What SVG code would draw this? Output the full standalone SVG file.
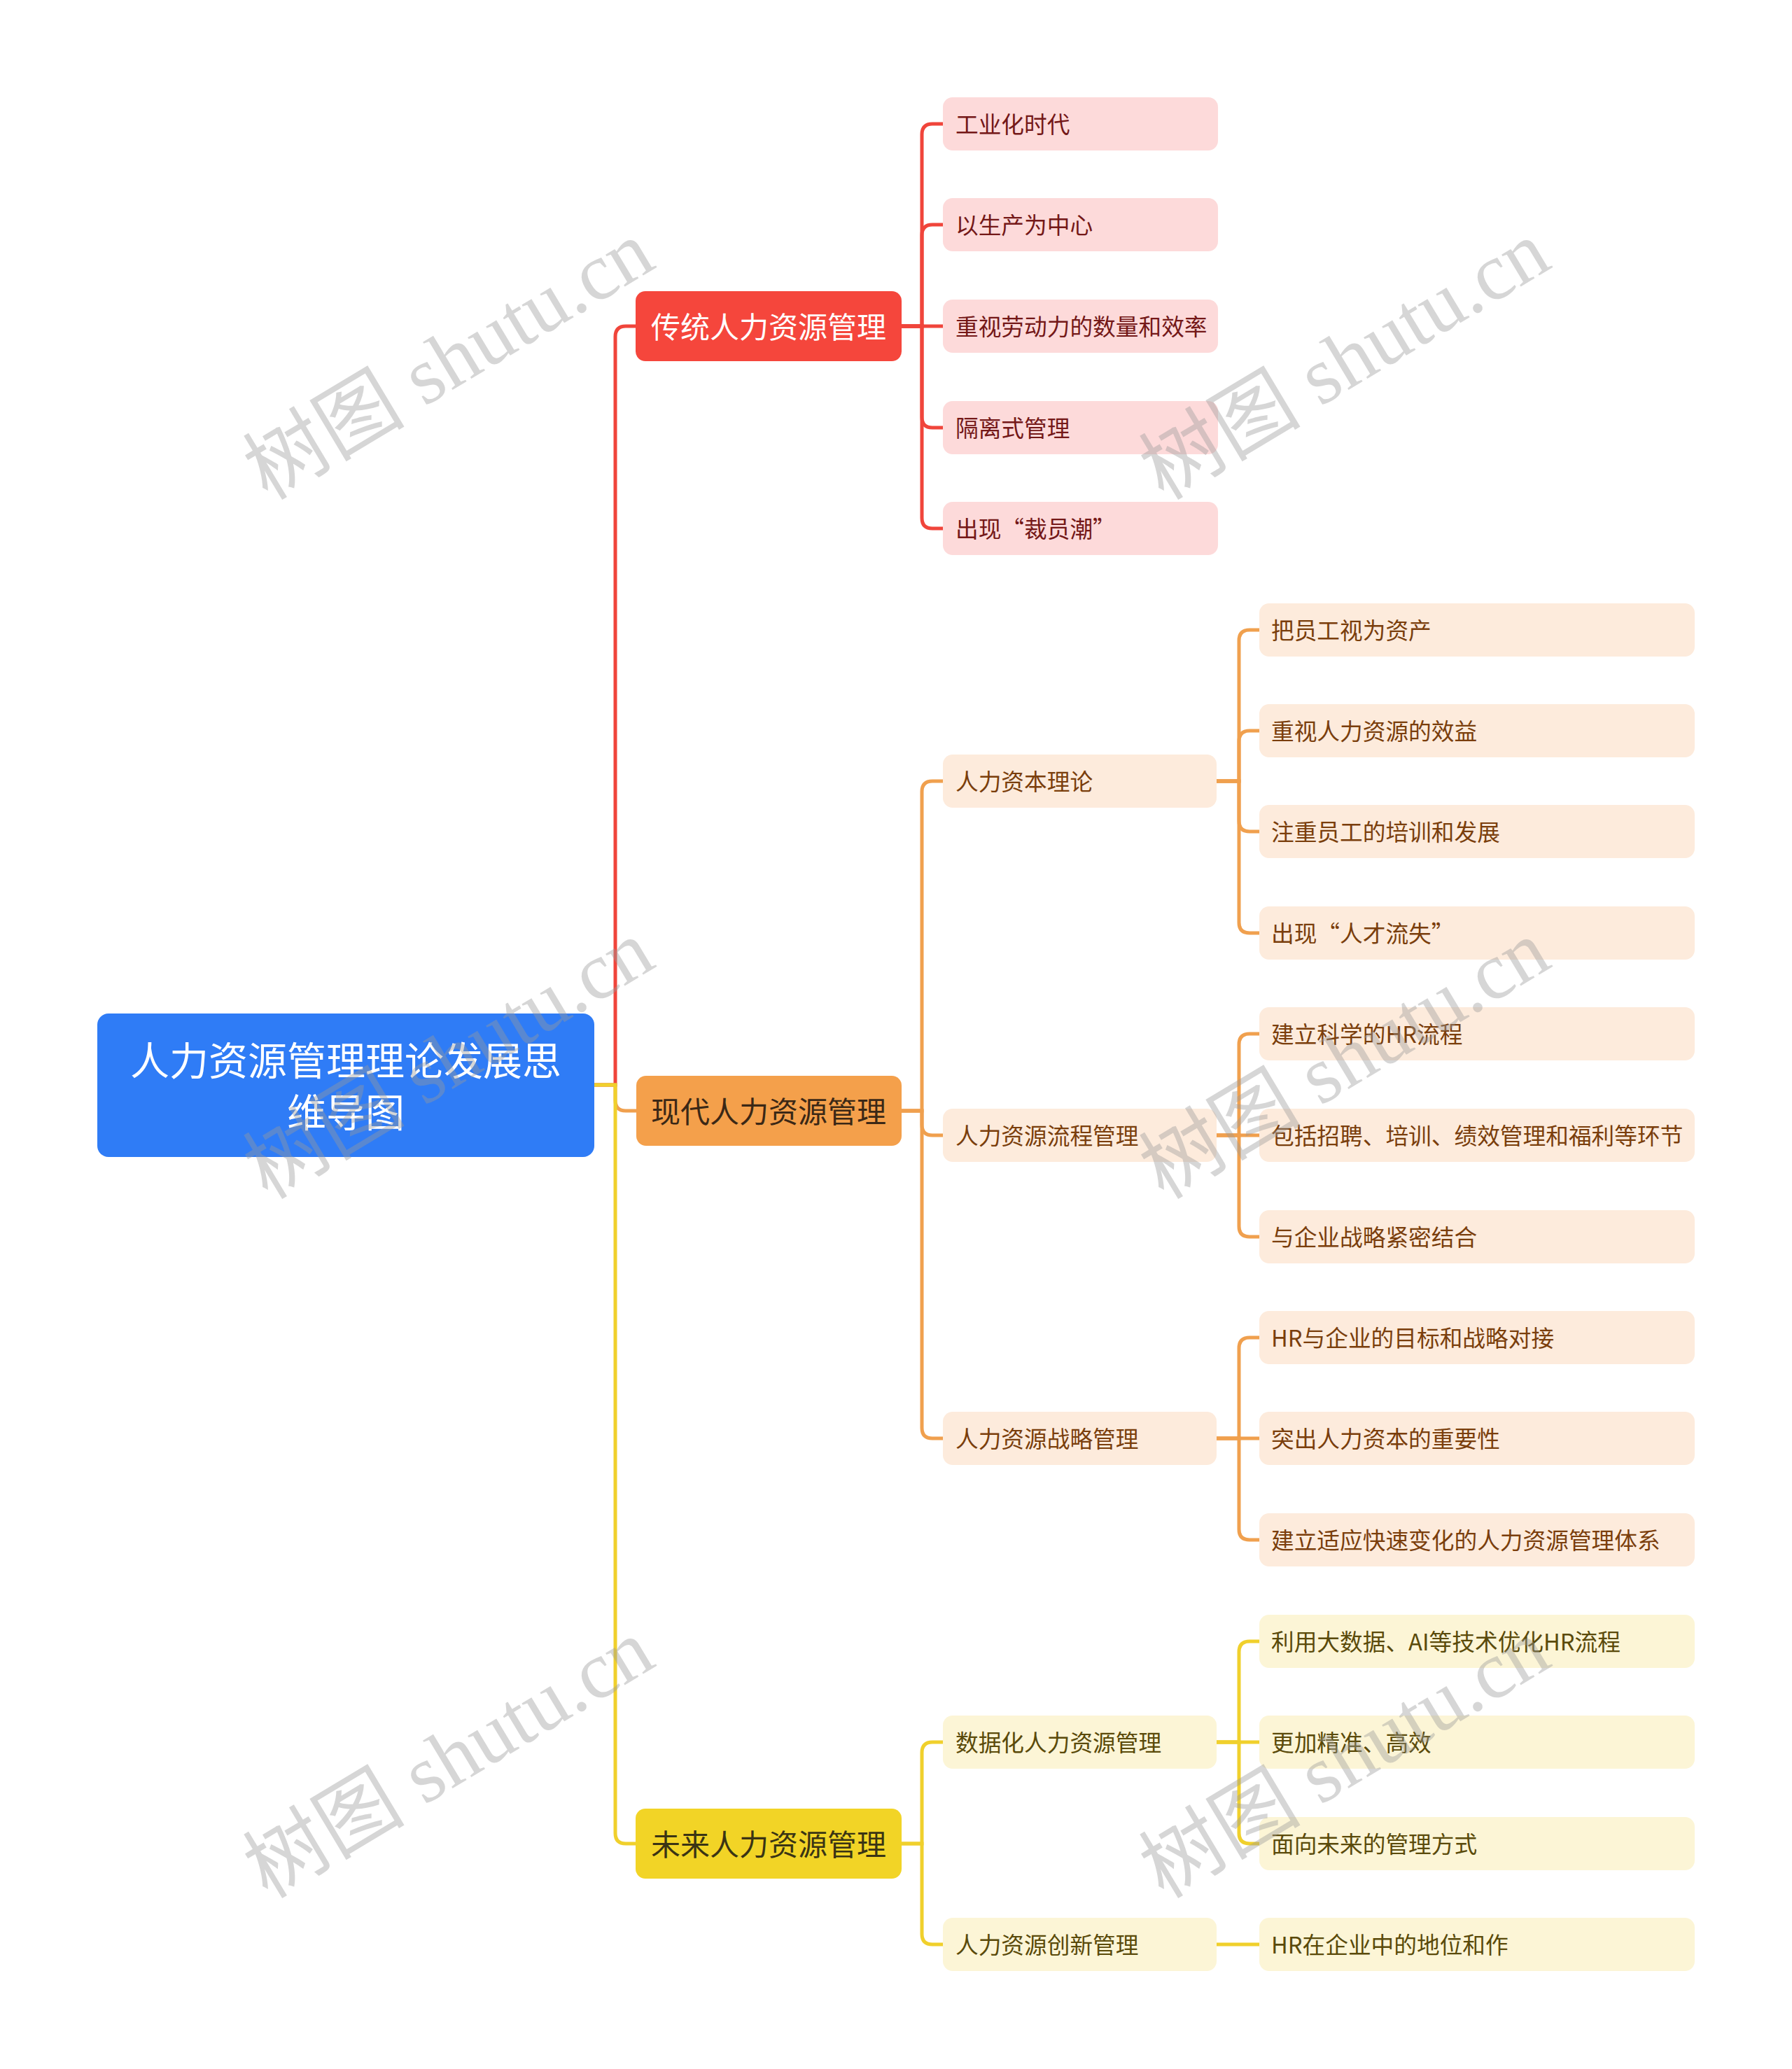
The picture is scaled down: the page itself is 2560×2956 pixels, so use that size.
<svg xmlns="http://www.w3.org/2000/svg" width="2560" height="2956" viewBox="0 0 2560 2956">
<style>
text{font-family:"Noto Sans CJK SC","Noto Sans",sans-serif;dominant-baseline:central}
.root rect{fill:#2F7CF6}
.root text{fill:#fff;font-size:56px;text-anchor:middle;transform:translateY(-3px)}
.m text{font-size:42px;transform:translateY(-2px)}
.mr rect{fill:#F5463C}.mr text{fill:#fff}
.mo rect{fill:#F4A04B}.mo text{fill:#3B2816}
.my rect{fill:#F2D426}.my text{fill:#3A3414}
.s text{font-size:32.7px;transform:translateY(-2px)}
.sr rect{fill:#FDDADA}.sr text{fill:#741818}
.so rect{fill:#FDEBDC}.so text{fill:#7A3E0C}
.sy rect{fill:#FCF5D6}.sy text{fill:#5A4A0A}
.c path{fill:none;stroke-width:5;stroke-linecap:butt}
.cr{stroke:#F0453B}.co{stroke:#F0A04E}.cy{stroke:#F0D02C}
.wm text{font-family:"Liberation Serif","Noto Sans CJK SC",serif;font-size:116px;fill:#9a9a9a;opacity:0.4;text-anchor:middle}
</style>
<g id="connectors" class="c">
<path class="cr" d="M849 1550H879V481Q879 466 894 466H908"/>
<path class="co" d="M849 1550H879V1572Q879 1587 894 1587H909"/>
<path class="cy" d="M849 1550H879V2619Q879 2634 894 2634H909"/>
<path class="cr" d="M1288 466H1317V192Q1317 177 1332 177H1347"/>
<path class="cr" d="M1288 466H1317V336Q1317 321 1332 321H1347"/>
<path class="cr" d="M1288 466H1347"/>
<path class="cr" d="M1288 466H1317V596Q1317 611 1332 611H1347"/>
<path class="cr" d="M1288 466H1317V740Q1317 755 1332 755H1347"/>
<path class="co" d="M1287 1587H1317V1131Q1317 1116 1332 1116H1347"/>
<path class="co" d="M1287 1587H1317V1607Q1317 1622 1332 1622H1347"/>
<path class="co" d="M1287 1587H1317V2040Q1317 2055 1332 2055H1347"/>
<path class="co" d="M1738 1116H1770V915Q1770 900 1785 900H1799"/>
<path class="co" d="M1738 1116H1770V1059Q1770 1044 1785 1044H1799"/>
<path class="co" d="M1738 1116H1770V1173Q1770 1188 1785 1188H1799"/>
<path class="co" d="M1738 1116H1770V1318Q1770 1333 1785 1333H1799"/>
<path class="co" d="M1738 1622H1770V1492Q1770 1477 1785 1477H1799"/>
<path class="co" d="M1738 1622H1799"/>
<path class="co" d="M1738 1622H1770V1752Q1770 1767 1785 1767H1799"/>
<path class="co" d="M1738 2055H1770V1926Q1770 1911 1785 1911H1799"/>
<path class="co" d="M1738 2055H1799"/>
<path class="co" d="M1738 2055H1770V2185Q1770 2200 1785 2200H1799"/>
<path class="cy" d="M1288 2634H1317V2504Q1317 2489 1332 2489H1347"/>
<path class="cy" d="M1288 2634H1317V2763Q1317 2778 1332 2778H1347"/>
<path class="cy" d="M1738 2489H1770V2360Q1770 2345 1785 2345H1799"/>
<path class="cy" d="M1738 2489H1799"/>
<path class="cy" d="M1738 2489H1770V2619Q1770 2634 1785 2634H1799"/>
<path class="cy" d="M1738 2778H1799"/>
</g>
<g id="root" class="root"><rect x="139" y="1448" width="710" height="205" rx="16"/><text x="494" y="1514">人力资源管理理论发展思</text><text x="494" y="1588">维导图</text></g>
<g id="n1" class="m mr"><rect x="908" y="416" width="380" height="100" rx="14"/><text x="930" y="466">传统人力资源管理</text></g>
<g id="n2" class="m mo"><rect x="909" y="1537" width="379" height="100" rx="14"/><text x="930" y="1587">现代人力资源管理</text></g>
<g id="n3" class="m my"><rect x="908" y="2584" width="380" height="100" rx="14"/><text x="930" y="2634">未来人力资源管理</text></g>
<g id="n1-1" class="s sr"><rect x="1347" y="139" width="393" height="76" rx="14"/><text x="1365" y="177">工业化时代</text></g>
<g id="n1-2" class="s sr"><rect x="1347" y="283" width="393" height="76" rx="14"/><text x="1365" y="321">以生产为中心</text></g>
<g id="n1-3" class="s sr"><rect x="1347" y="428" width="393" height="76" rx="14"/><text x="1365" y="466">重视劳动力的数量和效率</text></g>
<g id="n1-4" class="s sr"><rect x="1347" y="573" width="393" height="76" rx="14"/><text x="1365" y="611">隔离式管理</text></g>
<g id="n1-5" class="s sr"><rect x="1347" y="717" width="393" height="76" rx="14"/><text x="1365" y="755">出现“裁员潮”</text></g>
<g id="n2-1" class="s so"><rect x="1347" y="1078" width="391" height="76" rx="14"/><text x="1365" y="1116">人力资本理论</text></g>
<g id="n2-2" class="s so"><rect x="1347" y="1584" width="391" height="76" rx="14"/><text x="1365" y="1622">人力资源流程管理</text></g>
<g id="n2-3" class="s so"><rect x="1347" y="2017" width="391" height="76" rx="14"/><text x="1365" y="2055">人力资源战略管理</text></g>
<g id="n2-1-1" class="s so"><rect x="1799" y="862" width="622" height="76" rx="14"/><text x="1816" y="900">把员工视为资产</text></g>
<g id="n2-1-2" class="s so"><rect x="1799" y="1006" width="622" height="76" rx="14"/><text x="1816" y="1044">重视人力资源的效益</text></g>
<g id="n2-1-3" class="s so"><rect x="1799" y="1150" width="622" height="76" rx="14"/><text x="1816" y="1188">注重员工的培训和发展</text></g>
<g id="n2-1-4" class="s so"><rect x="1799" y="1295" width="622" height="76" rx="14"/><text x="1816" y="1333">出现“人才流失”</text></g>
<g id="n2-2-1" class="s so"><rect x="1799" y="1439" width="622" height="76" rx="14"/><text x="1816" y="1477">建立科学的HR流程</text></g>
<g id="n2-2-2" class="s so"><rect x="1799" y="1584" width="622" height="76" rx="14"/><text x="1816" y="1622">包括招聘、培训、绩效管理和福利等环节</text></g>
<g id="n2-2-3" class="s so"><rect x="1799" y="1729" width="622" height="76" rx="14"/><text x="1816" y="1767">与企业战略紧密结合</text></g>
<g id="n2-3-1" class="s so"><rect x="1799" y="1873" width="622" height="76" rx="14"/><text x="1816" y="1911">HR与企业的目标和战略对接</text></g>
<g id="n2-3-2" class="s so"><rect x="1799" y="2017" width="622" height="76" rx="14"/><text x="1816" y="2055">突出人力资本的重要性</text></g>
<g id="n2-3-3" class="s so"><rect x="1799" y="2162" width="622" height="76" rx="14"/><text x="1816" y="2200">建立适应快速变化的人力资源管理体系</text></g>
<g id="n3-1" class="s sy"><rect x="1347" y="2451" width="391" height="76" rx="14"/><text x="1365" y="2489">数据化人力资源管理</text></g>
<g id="n3-2" class="s sy"><rect x="1347" y="2740" width="391" height="76" rx="14"/><text x="1365" y="2778">人力资源创新管理</text></g>
<g id="n3-1-1" class="s sy"><rect x="1799" y="2307" width="622" height="76" rx="14"/><text x="1816" y="2345">利用大数据、AI等技术优化HR流程</text></g>
<g id="n3-1-2" class="s sy"><rect x="1799" y="2451" width="622" height="76" rx="14"/><text x="1816" y="2489">更加精准、高效</text></g>
<g id="n3-1-3" class="s sy"><rect x="1799" y="2596" width="622" height="76" rx="14"/><text x="1816" y="2634">面向未来的管理方式</text></g>
<g id="n3-2-1" class="s sy"><rect x="1799" y="2740" width="622" height="76" rx="14"/><text x="1816" y="2778">HR在企业中的地位和作</text></g>
<g id="watermarks" class="wm">
<text transform="translate(641 515) rotate(-31)">树图 shutu.cn</text>
<text transform="translate(1921 515) rotate(-31)">树图 shutu.cn</text>
<text transform="translate(641 1514) rotate(-31)">树图 shutu.cn</text>
<text transform="translate(1921 1514) rotate(-31)">树图 shutu.cn</text>
<text transform="translate(641 2513) rotate(-31)">树图 shutu.cn</text>
<text transform="translate(1921 2513) rotate(-31)">树图 shutu.cn</text>
</g>
</svg>
